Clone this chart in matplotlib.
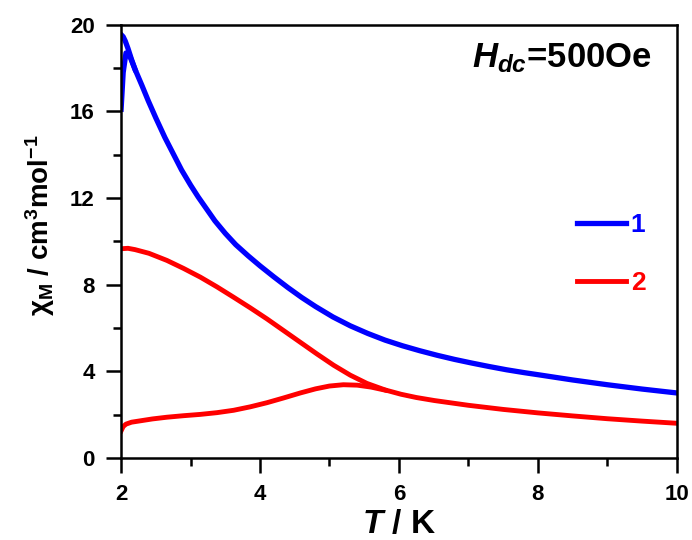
import matplotlib
matplotlib.use('Agg')
import matplotlib.pyplot as plt
from matplotlib.ticker import MultipleLocator

plt.rcParams['font.family'] = ['Liberation Sans', 'DejaVu Sans']
plt.rcParams['font.weight'] = 'bold'
plt.rcParams['axes.labelweight'] = 'bold'
plt.rcParams['mathtext.fontset'] = 'custom'
plt.rcParams['mathtext.rm'] = 'Liberation Sans:bold'
plt.rcParams['mathtext.bf'] = 'Liberation Sans:bold'
plt.rcParams['mathtext.it'] = 'Liberation Sans:italic:bold'

# sample 1 (blue): main branch and the short upper branch near 2 K
t1 = [2.0, 2.03, 2.07, 2.12, 2.2, 2.3, 2.39, 2.5, 2.63, 2.75, 2.87, 3.0, 3.11, 3.23, 3.35,
      3.5, 3.65, 3.83, 4.0, 4.2, 4.4, 4.6, 4.8, 5.05, 5.3, 5.55, 5.8, 6.05, 6.3, 6.55,
      6.8, 7.05, 7.3, 7.55, 7.8, 8.05, 8.5, 9.0, 9.5, 10.0]
chi1 = [16.1, 17.8, 18.7, 18.6, 17.95, 17.2, 16.5, 15.7, 14.8, 14.05, 13.3, 12.6, 12.05, 11.5, 10.95,
        10.37, 9.85, 9.33, 8.87, 8.36, 7.87, 7.41, 6.99, 6.51, 6.1, 5.75, 5.44, 5.18, 4.95, 4.74,
        4.55, 4.38, 4.22, 4.07, 3.94, 3.82, 3.6, 3.38, 3.18, 3.0]
t1b = [2.0, 2.03, 2.06, 2.1, 2.15, 2.2]
chi1b = [19.55, 19.45, 19.25, 18.9, 18.4, 17.95]

# sample 2 (red): upper and lower branches
t2a = [2.0, 2.1, 2.2, 2.4, 2.66, 2.9, 3.14, 3.38, 3.62, 3.86, 4.1, 4.34, 4.58, 4.82,
       5.06, 5.3, 5.54, 5.8, 6.03, 6.25, 6.51, 7.0, 7.5, 8.0, 8.5, 9.0, 9.5, 10.0]
chi2a = [9.66, 9.68, 9.62, 9.45, 9.12, 8.75, 8.35, 7.9, 7.42, 6.93, 6.42, 5.88, 5.34, 4.8,
         4.28, 3.82, 3.44, 3.14, 2.94, 2.79, 2.65, 2.43, 2.24, 2.08, 1.94, 1.81, 1.7, 1.6]
t2b = [2.0, 2.03, 2.07, 2.15, 2.27, 2.45, 2.66, 2.9, 3.14, 3.38, 3.62, 3.86, 4.1, 4.34,
       4.58, 4.8, 5.0, 5.2, 5.4, 5.6, 5.8]
chi2b = [1.25, 1.45, 1.56, 1.65, 1.71, 1.8, 1.88, 1.95, 2.01, 2.09, 2.2, 2.36, 2.55, 2.77,
         3.0, 3.19, 3.32, 3.38, 3.36, 3.27, 3.13]

fig = plt.figure(figsize=(6.92, 5.4), dpi=100)
ax = fig.add_axes([0.175, 0.152, 0.803, 0.802])

l1, = ax.plot(t1, chi1, color='#0000FF', lw=3.8, solid_joinstyle='round')
ax.plot(t1b, chi1b, color='#0000FF', lw=3.8, solid_joinstyle='round')
l2, = ax.plot(t2a, chi2a, color='#FF0000', lw=3.5, solid_joinstyle='round')
ax.plot(t2b, chi2b, color='#FF0000', lw=3.5, solid_joinstyle='round')

ax.set_xlim(2, 10)
ax.set_ylim(0, 20)
ax.xaxis.set_major_locator(MultipleLocator(2))
ax.xaxis.set_minor_locator(MultipleLocator(1))
ax.yaxis.set_major_locator(MultipleLocator(4))
ax.yaxis.set_minor_locator(MultipleLocator(2))
ax.tick_params(which='both', direction='out', width=1.8, labelsize=16, pad=8)
ax.tick_params(which='major', length=11)
ax.tick_params(which='minor', length=5.8)
for s in ax.spines.values():
    s.set_linewidth(1.8)

ax.set_xlabel(r'$T$ / K', fontsize=24, labelpad=3)
ax.set_ylabel(r'χ$_{\mathrm{M}}$ / cm$^{\mathrm{3}}$mol$^{\mathrm{-1}}$', fontsize=20)
ax.yaxis.set_label_coords(-0.115, 0.537)

ax.text(0.955, 0.962, r'$H_{dc}$=500Oe', transform=ax.transAxes, ha='right', va='top',
        fontsize=25)

ax.legend([l1, l2], ['1', '2'], loc='upper left', bbox_to_anchor=(0.82, 0.566),
          frameon=False, labelcolor='linecolor', handlelength=1.85, handletextpad=0.2,
          labelspacing=1.3, borderpad=0, borderaxespad=0,
          prop={'size': 19, 'weight': 'bold'})

fig.savefig('out.png', dpi=100)
